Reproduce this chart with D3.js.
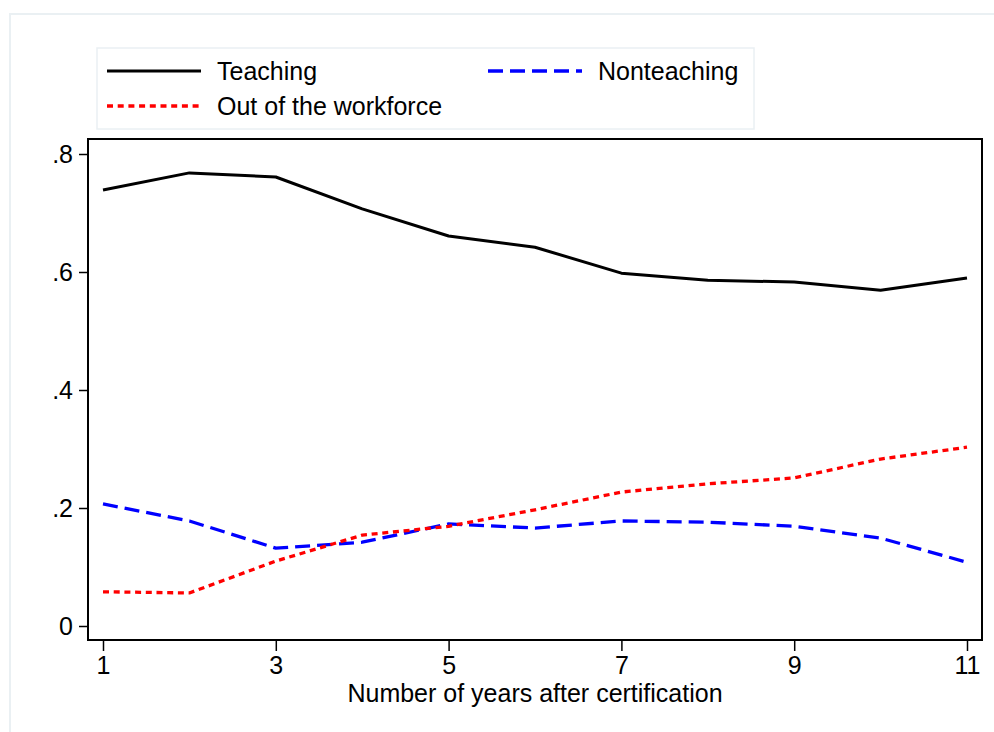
<!DOCTYPE html>
<html>
<head>
<meta charset="utf-8">
<script src="https://cdn.jsdelivr.net/npm/d3@7"></script>
<style>
  html, body { margin: 0; padding: 0; background: #fff; }
  svg { display: block; font-family: Arial, "Liberation Sans", sans-serif; }
</style>
</head>
<body>
<svg id="chart" width="994" height="732"></svg>
<script>
const years = [1, 2, 3, 4, 5, 6, 7, 8, 9, 10, 11];
const teaching = [0.739, 0.768, 0.761, 0.707, 0.661, 0.642, 0.598, 0.586, 0.583, 0.569, 0.590];
const nonteaching = [0.207, 0.178, 0.132, 0.142, 0.173, 0.166, 0.178, 0.176, 0.169, 0.149, 0.108];
const outOfWorkforce = [0.058, 0.056, 0.110, 0.154, 0.169, 0.197, 0.227, 0.241, 0.251, 0.283, 0.303];
const xTicks = [1, 3, 5, 7, 9, 11];
const yTicks = [0, 0.2, 0.4, 0.6, 0.8];
const yTickLabels = ["0", ".2", ".4", ".6", ".8"];
const seriesNames = ["Teaching", "Nonteaching", "Out of the workforce"];
const xTitle = "Number of years after certification";

const FS = 25;
const svg = d3.select("#chart");

// outer light frame
svg.append("rect").attr("x", 10).attr("y", 14).attr("width", 1000).attr("height", 740)
  .attr("fill", "none").attr("stroke", "#eaf0f3").attr("stroke-width", 2);

const plot = { left: 88, right: 982, top: 139, bottom: 640 };
const x = d3.scaleLinear().domain([1, 11]).range([103, 967]);
const y = d3.scaleLinear().domain([0, 0.8]).range([626, 154]);

// plot frame
svg.append("rect").attr("x", plot.left).attr("y", plot.top)
  .attr("width", plot.right - plot.left).attr("height", plot.bottom - plot.top)
  .attr("fill", "none").attr("stroke", "#000").attr("stroke-width", 2);

// y axis
const yAxis = d3.axisLeft(y).tickValues(yTicks).tickSize(9).tickPadding(6)
  .tickFormat((d, i) => yTickLabels[i]);
const gy = svg.append("g").attr("transform", `translate(${plot.left},0)`).call(yAxis);
gy.select(".domain").remove();
gy.selectAll(".tick line").attr("stroke", "#000").attr("stroke-width", 1.5);
gy.selectAll(".tick text").attr("font-size", FS).attr("fill", "#000")
  .attr("font-family", "Arial, 'Liberation Sans', sans-serif");

// x axis
const xAxis = d3.axisBottom(x).tickValues(xTicks).tickSize(11).tickPadding(5)
  .tickFormat(d3.format("d"));
const gx = svg.append("g").attr("transform", `translate(0,${plot.bottom})`).call(xAxis);
gx.select(".domain").remove();
gx.selectAll(".tick line").attr("stroke", "#000").attr("stroke-width", 1.5);
gx.selectAll(".tick text").attr("font-size", FS).attr("fill", "#000")
  .attr("font-family", "Arial, 'Liberation Sans', sans-serif");

svg.append("text").attr("x", 535).attr("y", 702).attr("text-anchor", "middle")
  .attr("font-size", FS).attr("fill", "#000").text(xTitle);

// lines
const styles = [
  { color: "#000000", dash: null, w: 3 },
  { color: "#0000ff", dash: "15,7", w: 3.3 },
  { color: "#ff0000", dash: "6,4.7", w: 3.3 }
];
const data = [teaching, nonteaching, outOfWorkforce];
const line = d3.line().x((d, i) => x(years[i])).y(d => y(d));

data.forEach((vals, k) => {
  svg.append("path").datum(vals).attr("d", line)
    .attr("fill", "none").attr("stroke", styles[k].color)
    .attr("stroke-width", styles[k].w)
    .attr("stroke-dasharray", styles[k].dash)
    .attr("stroke-linejoin", "round");
});

// legend
svg.append("rect").attr("x", 97).attr("y", 48).attr("width", 657).attr("height", 81)
  .attr("fill", "#fff").attr("stroke", "#eaf0f3").attr("stroke-width", 1.5);
const legendPos = [
  { lx: 107, ly: 71 },
  { lx: 488, ly: 71 },
  { lx: 107, ly: 106 }
];
seriesNames.forEach((name, k) => {
  const p = legendPos[k];
  svg.append("line").attr("x1", p.lx).attr("x2", p.lx + 94).attr("y1", p.ly).attr("y2", p.ly)
    .attr("stroke", styles[k].color).attr("stroke-width", styles[k].w)
    .attr("stroke-dasharray", styles[k].dash);
  svg.append("text").attr("x", p.lx + 110).attr("y", p.ly + 9)
    .attr("font-size", FS).attr("fill", "#000").text(name);
});
</script>
</body>
</html>
